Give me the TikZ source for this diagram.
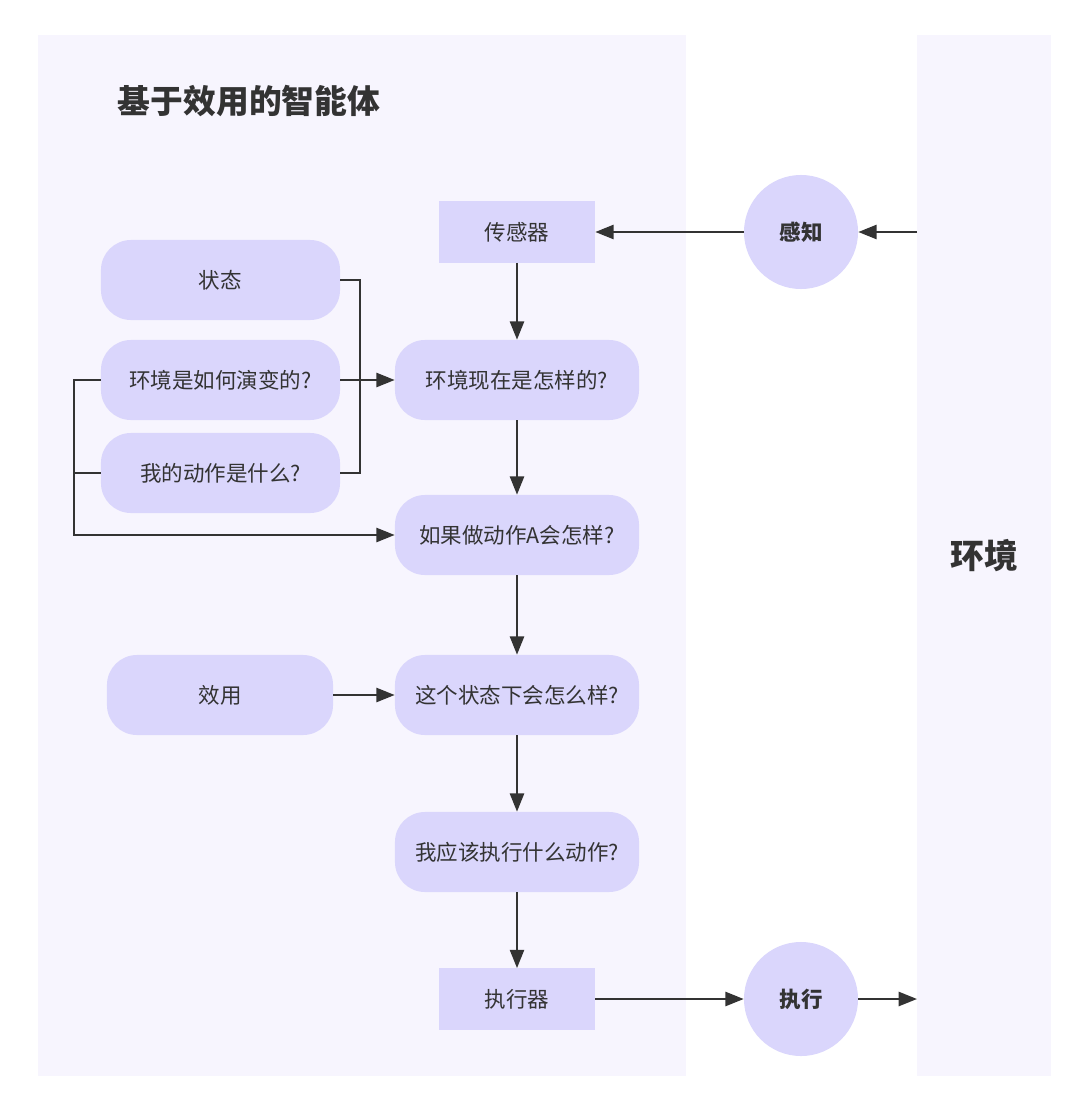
\documentclass[tikz,border=0pt]{standalone}
\usepackage{fontspec}
\setmainfont{Noto Sans CJK SC}
\usetikzlibrary{arrows.meta}
\definecolor{bgpanel}{HTML}{F7F5FE}
\definecolor{nodefill}{HTML}{DAD6FC}
\definecolor{ink}{HTML}{333333}
\tikzset{
  base/.style={fill=nodefill, draw=none, text=ink, inner sep=0pt, font=\fontsize{15.3}{17}\selectfont},
  rectbox/.style={base, minimum width=3.9cm, minimum height=1.53cm},
  pillbox/.style={base, rounded corners=0.75cm, minimum width=5.975cm, minimum height=2cm},
  circbox/.style={base, circle, minimum size=2.85cm, font=\fontsize{15.3}{17}\selectfont\bfseries},
  conn/.style={draw=ink, line width=1.6pt, -{Triangle[length=13pt,width=10pt]}},
  plain/.style={draw=ink, line width=1.6pt},
}
\begin{document}
\begin{tikzpicture}[x=0.025cm, y=-0.025cm]
\useasboundingbox (0,0) rectangle (1080,1110);
\fill[white] (0,0) rectangle (1080,1110);
% panels
\fill[bgpanel] (38,35) rectangle (686,1076);
\fill[bgpanel] (917,35) rectangle (1051,1076);
\node[text=ink, font=\fontsize{23.3}{27}\selectfont\bfseries, anchor=west] (title) at (113,101) {基于效用的智能体};
\node[text=ink, font=\fontsize{24}{28}\selectfont\bfseries] (env) at (984,556) {环境};
% environment edge coordinates
\coordinate (envin) at (917,232);
\coordinate (envout) at (917,999);
% nodes
\node[rectbox] (sensor) at (517,232) {传感器};
\node[circbox] (perceive) at (801,232) {感知};
\node[pillbox] (state) at (220.5,280) {状态};
\node[pillbox] (evolve) at (220.5,380) {环境是如何演变的?};
\node[pillbox] (myact) at (220.5,473) {我的动作是什么?};
\node[pillbox, minimum width=6.1cm] (now) at (517,380) {环境现在是怎样的?};
\node[pillbox, minimum width=6.1cm] (whatif) at (517,535) {如果做动作A会怎样?};
\node[pillbox, minimum width=5.65cm] (utility) at (220,695) {效用};
\node[pillbox, minimum width=6.1cm] (howgood) at (517,695) {这个状态下会怎么样?};
\node[pillbox, minimum width=6.1cm] (which) at (517,852) {我应该执行什么动作?};
\node[rectbox] (actuator) at (517,999) {执行器};
\node[circbox] (execute) at (801,999) {执行};
% connectors
\coordinate (bx) at (360,280);
\coordinate (lx) at (74,380);
\draw[conn] (envin) -- (perceive);
\draw[conn] (perceive) -- (sensor);
\draw[conn] (sensor) -- (now);
\draw[conn] (now) -- (whatif);
\draw[conn] (whatif) -- (howgood);
\draw[conn] (howgood) -- (which);
\draw[conn] (which) -- (actuator);
\draw[conn] (actuator) -- (execute);
\draw[conn] (execute) -- (envout);
\draw[conn] (utility) -- (howgood);
\draw[plain] (state.east) -| (bx |- myact.east) -- (myact.east);
\draw[conn] (evolve) -- (now);
\draw[plain] (myact.west) -- (lx |- myact.west);
\draw[conn] (evolve.west) -- (lx) |- (whatif.west);
\end{tikzpicture}
\end{document}
